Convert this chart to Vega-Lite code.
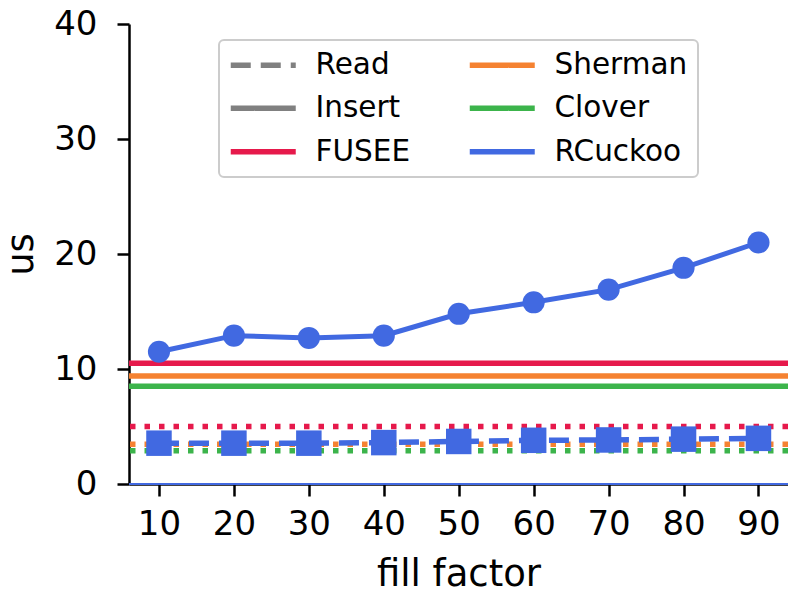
{
  "$schema": "https://vega.github.io/schema/vega-lite/v6.json",
  "width": 659,
  "height": 460,
  "autosize": {"type": "none"},
  "padding": {"left": 129, "top": 24, "right": 0, "bottom": 108},
  "background": "white",
  "datasets": {
    "constants": [
      {"system": "FUSEE", "metric": "Insert", "us": 10.5},
      {"system": "Sherman", "metric": "Insert", "us": 9.4},
      {"system": "Clover", "metric": "Insert", "us": 8.5},
      {"system": "FUSEE", "metric": "Read", "us": 5.0},
      {"system": "Sherman", "metric": "Read", "us": 3.45},
      {"system": "Clover", "metric": "Read", "us": 2.9},
      {"system": "RCuckoo", "metric": "Baseline", "us": 0}
    ],
    "rcuckoo": [
      {"fill": 10, "metric": "Insert", "us": 11.5},
      {"fill": 20, "metric": "Insert", "us": 12.9},
      {"fill": 30, "metric": "Insert", "us": 12.7},
      {"fill": 40, "metric": "Insert", "us": 12.9},
      {"fill": 50, "metric": "Insert", "us": 14.8},
      {"fill": 60, "metric": "Insert", "us": 15.8},
      {"fill": 70, "metric": "Insert", "us": 16.9},
      {"fill": 80, "metric": "Insert", "us": 18.8},
      {"fill": 90, "metric": "Insert", "us": 21.0},
      {"fill": 10, "metric": "Read", "us": 3.55},
      {"fill": 20, "metric": "Read", "us": 3.55},
      {"fill": 30, "metric": "Read", "us": 3.55},
      {"fill": 40, "metric": "Read", "us": 3.6},
      {"fill": 50, "metric": "Read", "us": 3.7},
      {"fill": 60, "metric": "Read", "us": 3.8},
      {"fill": 70, "metric": "Read", "us": 3.83},
      {"fill": 80, "metric": "Read", "us": 3.9},
      {"fill": 90, "metric": "Read", "us": 3.97}
    ]
  },
  "config": {
    "font": "DejaVu Sans",
    "view": {"stroke": null},
    "axis": {
      "grid": false,
      "domainColor": "black",
      "domainWidth": 2.5,
      "tickColor": "black",
      "tickWidth": 2.5,
      "tickSize": 12,
      "labelFont": "DejaVu Sans",
      "labelFontSize": 34,
      "labelColor": "black",
      "titleFont": "DejaVu Sans",
      "titleFontSize": 37,
      "titleFontWeight": "normal",
      "titleColor": "black",
      "zindex": 1
    },
    "legend": {"strokeWidth": 2}
  },
  "layer": [
    {
      "data": {"name": "constants"},
      "transform": [{"filter": "datum.metric === 'Insert'"}],
      "mark": {"type": "rule", "strokeWidth": 5.5},
      "encoding": {
        "y": {
          "field": "us", "type": "quantitative",
          "scale": {"domain": [0, 40], "nice": false, "zero": false},
          "axis": {"values": [0, 10, 20, 30, 40], "title": "us", "labelPadding": 20, "titlePadding": 13}
        },
        "color": {
          "field": "system", "type": "nominal",
          "scale": {
            "domain": ["Read", "Insert", "FUSEE", "Sherman", "Clover", "RCuckoo"],
            "range": ["#808080", "#808080", "#e6194b", "#f58231", "#3cb44b", "#4169e1"]
          },
          "legend": {
            "title": null,
            "orient": "none",
            "legendX": 90,
            "legendY": 16,
            "columns": 2,
            "symbolType": "M-1.3,0H5.2",
            "symbolSize": 400,
            "symbolStrokeWidth": 5.5,
            "labelFontSize": 29.5,
            "labelFont": "DejaVu Sans",
            "labelColor": "black",
            "labelOffset": 57,
            "labelLimit": 0,
            "rowPadding": 12.5,
            "columnPadding": 47,
            "padding": 10,
            "strokeColor": "#cccccc",
            "fillColor": "white",
            "cornerRadius": 5,
            "symbolOpacity": 1,
            "encode": {
              "symbols": {
                "update": {
                  "strokeDash": {"signal": "datum.value === 'Read' ? [20, 10] : [1, 0]"}
                }
              }
            }
          }
        }
      }
    },
    {
      "data": {"name": "constants"},
      "transform": [{"filter": "datum.metric === 'Read'"}],
      "mark": {"type": "rule", "strokeWidth": 5.5, "strokeDash": [5.5, 9]},
      "encoding": {
        "y": {"field": "us", "type": "quantitative"},
        "color": {"field": "system", "type": "nominal"}
      }
    },
    {
      "data": {"name": "constants"},
      "transform": [{"filter": "datum.metric === 'Baseline'"}],
      "mark": {"type": "rule", "strokeWidth": 2},
      "encoding": {
        "y": {"field": "us", "type": "quantitative"},
        "color": {"field": "system", "type": "nominal"}
      }
    },
    {
      "data": {"name": "rcuckoo"},
      "transform": [{"filter": "datum.metric === 'Insert'"}],
      "mark": {"type": "line", "strokeWidth": 5, "color": "#4169e1"},
      "encoding": {
        "x": {
          "field": "fill", "type": "quantitative",
          "scale": {"domain": [6, 93.94], "nice": false, "zero": false},
          "axis": {"values": [10, 20, 30, 40, 50, 60, 70, 80, 90], "title": "fill factor", "labelPadding": 11, "titlePadding": 15}
        },
        "y": {"field": "us", "type": "quantitative"}
      }
    },
    {
      "data": {"name": "rcuckoo"},
      "transform": [{"filter": "datum.metric === 'Insert'"}],
      "mark": {"type": "point", "shape": "circle", "filled": true, "size": 490, "opacity": 1, "color": "#4169e1"},
      "encoding": {
        "x": {"field": "fill", "type": "quantitative"},
        "y": {"field": "us", "type": "quantitative"}
      }
    },
    {
      "data": {"name": "rcuckoo"},
      "transform": [{"filter": "datum.metric === 'Read'"}],
      "mark": {"type": "line", "strokeWidth": 5.5, "strokeDash": [20, 10], "color": "#4169e1"},
      "encoding": {
        "x": {"field": "fill", "type": "quantitative"},
        "y": {"field": "us", "type": "quantitative"}
      }
    },
    {
      "data": {"name": "rcuckoo"},
      "transform": [{"filter": "datum.metric === 'Read'"}],
      "mark": {"type": "point", "shape": "square", "filled": true, "size": 650, "opacity": 1, "color": "#4169e1"},
      "encoding": {
        "x": {"field": "fill", "type": "quantitative"},
        "y": {"field": "us", "type": "quantitative"}
      }
    }
  ]
}
